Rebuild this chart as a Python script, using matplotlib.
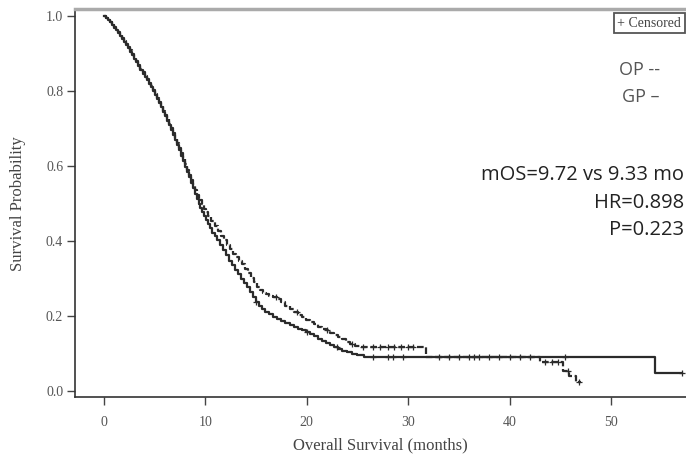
import numpy as np
import matplotlib
matplotlib.use("Agg")
import matplotlib.pyplot as plt

# ---- data ----
op_time = [0.0, 0.2, 0.4, 0.6, 0.8, 1.0, 1.2, 1.4, 1.6, 1.8, 2.0, 2.2, 2.4, 2.6, 2.8,
           3.0, 3.2, 3.4, 3.6, 3.8, 4.0, 4.2, 4.4, 4.6, 4.8, 5.0, 5.2, 5.4, 5.6, 5.8,
           6.0, 6.2, 6.4, 6.6, 6.8, 7.0, 7.2, 7.4, 7.6, 7.8, 8.0, 8.2, 8.4, 8.6, 8.8,
           9.0, 9.2, 9.4, 9.7, 9.9, 10.1, 10.3, 10.6, 10.9, 11.2, 11.5, 11.8, 12.1,
           12.4, 12.7, 13.0, 13.3, 13.6, 13.9, 14.2, 14.5, 14.8, 15.1, 15.4, 15.7,
           16.0, 16.3, 16.7, 17.1, 17.5, 17.9, 18.3, 18.7, 19.1, 19.5, 19.9, 20.3,
           20.7, 21.1, 21.5, 21.9, 22.3, 22.7, 23.1, 23.5, 23.9, 24.3, 24.8, 25.3,
           31.8, 43.0, 45.3, 45.9, 46.6, 47.0]
op_surv = [1.0, 0.995, 0.99, 0.985, 0.978, 0.972, 0.965, 0.958, 0.95, 0.943, 0.935,
           0.926, 0.918, 0.91, 0.9, 0.89, 0.88, 0.87, 0.86, 0.85, 0.84, 0.832, 0.823,
           0.813, 0.803, 0.793, 0.783, 0.772, 0.76, 0.748, 0.737, 0.725, 0.713, 0.701,
           0.689, 0.676, 0.662, 0.648, 0.634, 0.62, 0.605, 0.591, 0.577, 0.563, 0.549,
           0.536, 0.523, 0.511, 0.498, 0.487, 0.477, 0.466, 0.453, 0.44, 0.427, 0.414,
           0.402, 0.39, 0.378, 0.367, 0.357, 0.348, 0.338, 0.327, 0.315, 0.302, 0.29,
           0.279, 0.269, 0.263, 0.258, 0.254, 0.25, 0.245, 0.237, 0.228, 0.219, 0.211,
           0.204, 0.197, 0.19, 0.184, 0.178, 0.172, 0.167, 0.162, 0.156, 0.15, 0.144,
           0.138, 0.132, 0.126, 0.121, 0.117, 0.092, 0.077, 0.055, 0.04, 0.025, 0.025]

gp_time = [0.0, 0.2, 0.4, 0.6, 0.8, 1.0, 1.2, 1.4, 1.6, 1.8, 2.0, 2.2, 2.4, 2.6, 2.8,
           3.0, 3.2, 3.4, 3.6, 3.8, 4.0, 4.2, 4.4, 4.6, 4.8, 5.0, 5.2, 5.4, 5.6, 5.8,
           6.0, 6.2, 6.4, 6.6, 6.8, 7.0, 7.2, 7.4, 7.6, 7.8, 8.0, 8.2, 8.4, 8.6, 8.8,
           9.0, 9.2, 9.35, 9.5, 9.7, 9.9, 10.1, 10.3, 10.5, 10.7, 10.9, 11.1, 11.4,
           11.7, 12.0, 12.3, 12.6, 12.9, 13.2, 13.5, 13.8, 14.1, 14.4, 14.7, 15.0,
           15.3, 15.6, 15.9, 16.3, 16.7, 17.1, 17.5, 17.9, 18.3, 18.7, 19.1, 19.5,
           19.9, 20.3, 20.7, 21.1, 21.5, 21.9, 22.3, 22.7, 23.1, 23.5, 24.0, 24.5,
           25.0, 25.6, 54.3, 57.0]
gp_surv = [1.0, 0.996, 0.99, 0.984, 0.977, 0.97, 0.963, 0.956, 0.948, 0.94, 0.932,
           0.924, 0.915, 0.906, 0.897, 0.887, 0.877, 0.867, 0.857, 0.847, 0.838, 0.829,
           0.82, 0.81, 0.8, 0.79, 0.779, 0.768, 0.757, 0.745, 0.733, 0.721, 0.709,
           0.697, 0.684, 0.671, 0.657, 0.643, 0.628, 0.614, 0.599, 0.585, 0.57, 0.556,
           0.541, 0.527, 0.512, 0.498, 0.488, 0.478, 0.467, 0.456, 0.445, 0.434, 0.423,
           0.413, 0.403, 0.39, 0.376, 0.362, 0.348, 0.336, 0.324, 0.312, 0.3, 0.288,
           0.277, 0.264, 0.251, 0.239, 0.228, 0.218, 0.211, 0.205, 0.199, 0.193, 0.187,
           0.182, 0.177, 0.172, 0.167, 0.162, 0.157, 0.152, 0.146, 0.14, 0.134, 0.128,
           0.122, 0.117, 0.112, 0.108, 0.104, 0.1, 0.096, 0.091, 0.048, 0.048]

op_censor = [17.0, 19.0, 22.0, 24.5, 25.5, 26.5, 27.2, 28.0, 28.6, 29.3, 30.0, 30.5,
             33.0, 34.0, 35.0, 36.0, 36.5, 37.0, 38.0, 39.0, 40.0, 41.0, 42.0, 43.5,
             44.2, 44.8, 45.8, 46.8]
gp_censor = [15.0, 20.0, 23.0, 26.5, 28.0, 28.5, 29.5, 45.5, 57.0]

x_ticks = [0, 10, 20, 30, 40, 50]
y_ticks = [0.0, 0.2, 0.4, 0.6, 0.8, 1.0]
y_ticklabels = ["0.0", "0.2", "0.4", "0.6", "0.8", "1.0"]

# ---- figure ----
fig = plt.figure(figsize=(6.86, 4.57), dpi=100)
ax = fig.add_axes([0.1093, 0.131, 0.8907, 0.849])

serif = ["Liberation Serif", "DejaVu Serif"]
sans = ["Open Sans", "DejaVu Sans"]
col = "#2b2b2b"

ax.plot(gp_time, gp_surv, drawstyle="steps-post", color=col, lw=1.6)
ax.plot(op_time, op_surv, drawstyle="steps-post", color=col, lw=1.6,
        linestyle=(0, (3, 1.2)))

def step_at(t, times, surv):
    idx = np.searchsorted(times, t, side="right") - 1
    return np.asarray(surv)[idx]

ax.plot(op_censor, step_at(op_censor, op_time, op_surv), "+", color=col, ms=5, mew=0.9)
ax.plot(gp_censor, step_at(gp_censor, gp_time, gp_surv), "+", color=col, ms=5, mew=0.9)

ax.set_xlim(-2.86, 57.4)
ax.set_ylim(-0.016, 1.019)
ax.set_xticks(x_ticks)
ax.set_xticklabels([str(v) for v in x_ticks], fontfamily=serif, fontsize=10, color="#555")
ax.set_yticks(y_ticks)
ax.set_yticklabels(y_ticklabels, fontfamily=serif, fontsize=10, color="#555")
ax.tick_params(direction="out", length=5.5, width=1, color="#444")
ax.tick_params(axis="x", pad=8)
ax.tick_params(axis="y", pad=3)

ax.spines["right"].set_visible(False)
ax.spines["top"].set_color("#aaaaaa")
ax.spines["top"].set_linewidth(2.5)
ax.spines["left"].set_color("#333")
ax.spines["bottom"].set_color("#333")
ax.spines["left"].set_linewidth(1.2)
ax.spines["bottom"].set_linewidth(1.2)

ax.set_xlabel("Overall Survival (months)", fontfamily=serif, fontsize=12, color="#444",
              labelpad=6)
ax.set_ylabel("Survival Probability", fontfamily=serif, fontsize=12, color="#444",
              labelpad=14)

# legend box
ax.text(0.992, 0.98, "+ Censored", transform=ax.transAxes, ha="right", va="top",
        fontfamily=serif, fontsize=10, color="#444",
        bbox=dict(boxstyle="square,pad=0.25", fc="white", ec="#555", lw=1.3))

# annotations
ax.text(0.957, 0.843, "OP --", transform=ax.transAxes, ha="right", va="center",
        fontfamily=sans, fontsize=13, color="#555")
ax.text(0.957, 0.773, "GP \u2013", transform=ax.transAxes, ha="right", va="center",
        fontfamily=sans, fontsize=13, color="#555")
ax.text(0.997, 0.572, "mOS=9.72 vs 9.33 mo", transform=ax.transAxes, ha="right",
        va="center", fontfamily=sans, fontsize=14.5, color="#222")
ax.text(0.997, 0.50, "HR=0.898", transform=ax.transAxes, ha="right",
        va="center", fontfamily=sans, fontsize=14.5, color="#222")
ax.text(0.997, 0.43, "P=0.223", transform=ax.transAxes, ha="right",
        va="center", fontfamily=sans, fontsize=14.5, color="#222")

fig.savefig("out.png", dpi=100)
